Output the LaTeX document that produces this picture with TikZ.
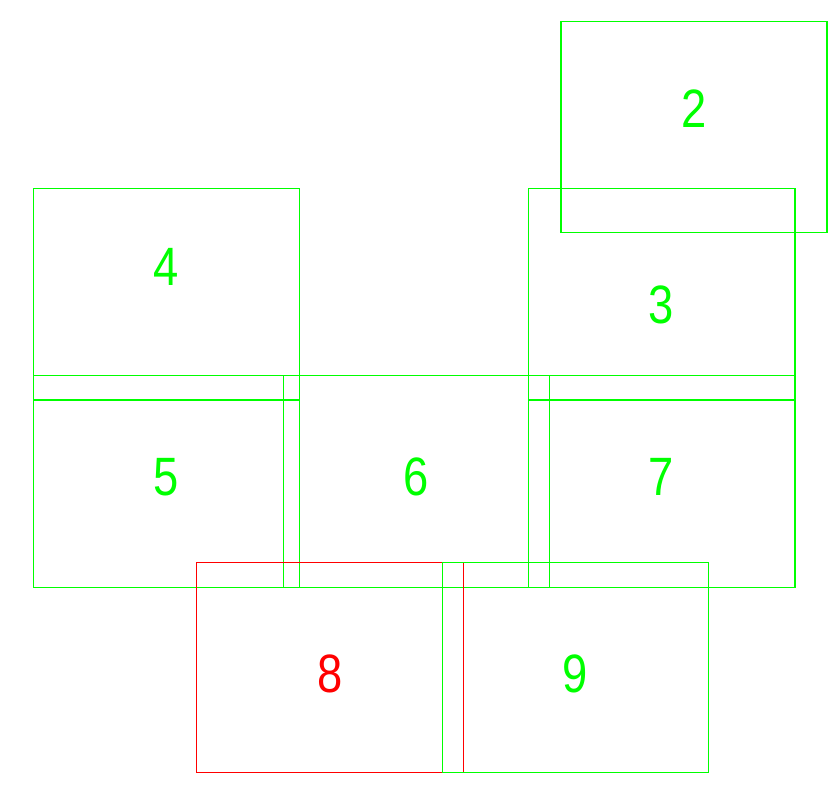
\documentclass[tikz,border=0pt]{standalone}
\usepackage{fontspec}
\newfontfamily\cifras[FakeStretch=0.84]{Liberation Sans}
\definecolor{verdeL}{HTML}{00FF00}
\definecolor{rojoL}{HTML}{FF0000}

\begin{document}
\begin{tikzpicture}[x=1pt,y=-1pt,line width=1.5pt,
          caja/.style={draw=verdeL},
          cajaR/.style={draw=rojoL},
          num/.style={verdeL,font=\cifras\fontsize{54}{54}\selectfont,inner sep=0pt},
          numR/.style={num,rojoL}]
          \useasboundingbox (0,0) rectangle (828,789);
          % fila de arriba
          \draw[caja] (561,21.7) rectangle (827,232.3);
          \draw[caja] (528.3,188.3) rectangle (795,400);
          \draw[caja] (33.3,188.3) rectangle (299.5,400);
          % fila del medio
          \draw[caja] (33.3,375.7) rectangle (299.5,587.3);
          \draw[caja] (283.3,375.7) rectangle (549.3,587.3);
          \draw[caja] (528.3,375.7) rectangle (795,587.3);
          % fila de abajo
          \draw[cajaR] (196.7,562.3) rectangle (463.3,772.7);
          \draw[caja] (442.3,562.3) rectangle (708.7,772.7);
          \node[num] (n2) at (694,109) {2};
          \node[num] (n3) at (661.5,305) {3};
          \node[num] (n4) at (166.5,267) {4};
          \node[num] (n5) at (166.5,477) {5};
          \node[num] (n6) at (416.3,477) {6};
          \node[num] (n7) at (661.5,477) {7};
          \node[numR] (n8) at (330,674) {8};
          \node[num] (n9) at (575.5,673.5) {9};
        \end{tikzpicture}
\end{document}
